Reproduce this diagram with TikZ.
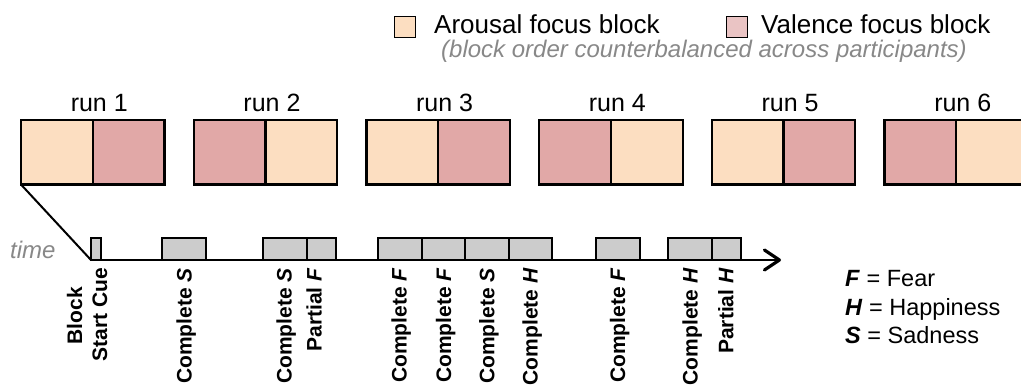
\documentclass[tikz,border=0pt]{standalone}
\usepackage{fontspec}
\setmainfont{Liberation Sans}
\usetikzlibrary{arrows.meta}
\definecolor{arousal}{HTML}{FCDEC1}
\definecolor{valence}{HTML}{E1A8A7}
\definecolor{valleg}{HTML}{EAC4C4}
\definecolor{evgray}{HTML}{CCCCCC}
\definecolor{txtgray}{HTML}{888888}
\begin{document}
\begin{tikzpicture}[x=1pt,y=-1pt,
  runbox/.style={draw, line width=2.2pt, minimum width=71.75pt, minimum height=64.5pt, inner sep=0pt, outer sep=0pt, anchor=north west},
  runlabel/.style={anchor=base, inner sep=0pt, font=\fontsize{25}{30}\selectfont},
  evbox/.style={draw, fill=evgray, line width=2pt, minimum height=22pt, inner sep=0pt, outer sep=0pt, anchor=south west},
  evlabel/.style={rotate=90, anchor=base east, inner sep=0pt, font=\fontsize{21}{25}\selectfont\bfseries},
  legsq/.style={draw, line width=1.8pt, minimum width=21pt, minimum height=21pt, inner sep=0pt},
  legtext/.style={anchor=base west, inner sep=0pt, font=\fontsize{26}{31}\selectfont},
  graytext/.style={anchor=base west, inner sep=0pt, text=txtgray, font=\fontsize{24}{29}\selectfont\itshape},
  keytext/.style={anchor=base west, inner sep=0pt, font=\fontsize{23.5}{28}\selectfont}
]
\useasboundingbox (0,0) rectangle (1021,387);

% legend (top)
\node[legsq, fill=arousal] (lsqa) at (405,27) {};
\node[legtext] (ltxa) at (434,33.5) {Arousal focus block};
\node[legsq, fill=valleg] (lsqv) at (737,27) {};
\node[legtext] (ltxv) at (761,33.5) {Valence focus block};
\node[graytext] (lsub) at (441,58) {(block order counterbalanced across participants)};

% runs
\foreach \i/\fa/\fb in {1/arousal/valence, 2/valence/arousal, 3/arousal/valence, 4/valence/arousal, 5/arousal/valence, 6/valence/arousal} {
  \pgfmathsetmacro\xl{21+(\i-1)*172.7}
  \node[runbox, fill=\fa] (r\i-a) at (\xl,120) {};
  \node[runbox, fill=\fb] (r\i-b) at (r\i-a.north east) {};
  \node[runlabel] (rl\i) at ([xshift=6.5pt,yshift=8pt]r\i-a.north east) {run \i};
}

% timeline
\coordinate (t0) at (91,260);
\coordinate (tend) at (781,260);
\draw[line width=2pt] (r1-a.south west) -- (t0);
\draw[line width=2.5pt, -{Straight Barb[length=15pt,width=20pt,line width=3.2pt,round]}] (t0) -- (tend);
\node[graytext] (time) at (10,259) {time};

% events
\node[evbox, minimum width=10pt] (e0) at (91,260) {};
\node[evbox, minimum width=43.5pt] (e1) at (162,260) {};
\node[evbox, minimum width=43.5pt] (e2) at (263,260) {};
\node[evbox, minimum width=29pt] (e3) at (e2.south east) {};
\node[evbox, minimum width=43.5pt] (e4) at (378,260) {};
\node[evbox, minimum width=43.5pt] (e5) at (e4.south east) {};
\node[evbox, minimum width=43.5pt] (e6) at (e5.south east) {};
\node[evbox, minimum width=43.5pt] (e7) at (e6.south east) {};
\node[evbox, minimum width=43.5pt] (e8) at (596,260) {};
\node[evbox, minimum width=43.5pt] (e9) at (668,260) {};
\node[evbox, minimum width=29pt] (e10) at (e9.south east) {};

% event labels
\node[evlabel] (l0a) at (82,287) {Block};
\node[evlabel] (l0b) at (107,268) {Start Cue};
\node[evlabel] (l1) at (191.7,268) {Complete \textit{S}};
\node[evlabel] (l2) at (291.7,268) {Complete \textit{S}};
\node[evlabel] (l3) at (321.7,268) {Partial \textit{F}};
\node[evlabel] (l4) at (406.7,268) {Complete \textit{F}};
\node[evlabel] (l5) at (451,268) {Complete \textit{F}};
\node[evlabel] (l6) at (494.3,268) {Complete \textit{S}};
\node[evlabel] (l7) at (537.7,268) {Complete \textit{H}};
\node[evlabel] (l8) at (625,268) {Complete \textit{F}};
\node[evlabel] (l9) at (697.7,268) {Complete \textit{H}};
\node[evlabel] (l10) at (733.3,268) {Partial \textit{H}};

% key
\node[keytext] (kf) at (845,286.7) {\textbf{\textit{F}} = Fear};
\node[keytext] (kh) at (845,315.3) {\textbf{\textit{H}} = Happiness};
\node[keytext] (ks) at (845,343.8) {\textbf{\textit{S}} = Sadness};
\end{tikzpicture}
\end{document}
